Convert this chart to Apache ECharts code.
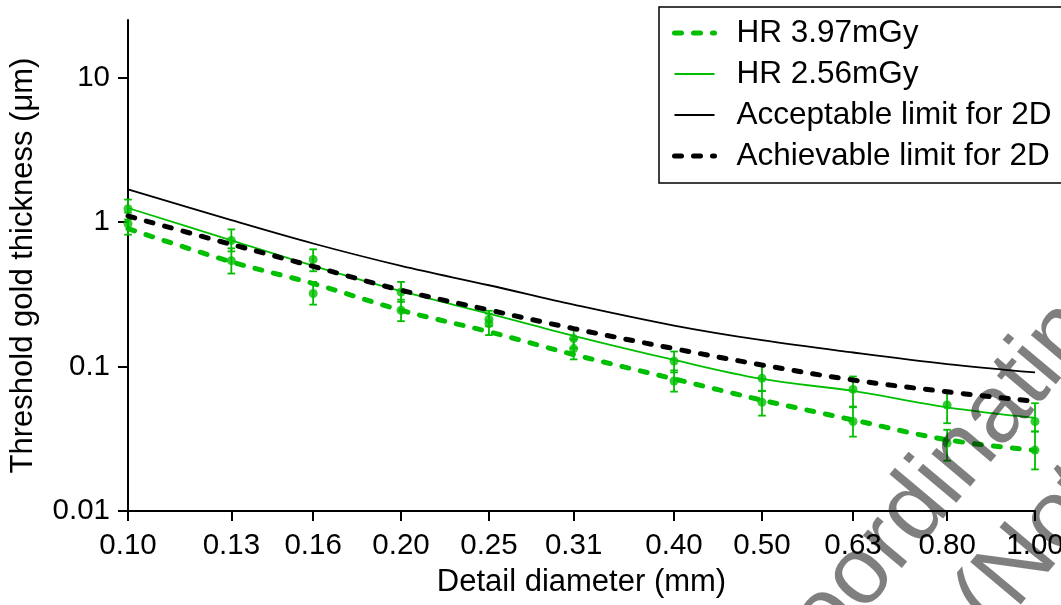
<!DOCTYPE html>
<html>
<head>
<meta charset="utf-8">
<script src="https://cdn.jsdelivr.net/npm/echarts@6/dist/echarts.min.js"></script>
<style>
  html, body { margin: 0; padding: 0; background: #fff; }
  #chart { width: 1061px; height: 605px; }
</style>
</head>
<body>
<div id="chart"></div>
<script>
// Detail diameters (mm) used for the x ticks and the measurement points
const diameters = [0.10, 0.13, 0.16, 0.20, 0.25, 0.31, 0.40, 0.50, 0.63, 0.80, 1.00];
const xTickLabels = ['0.10', '0.13', '0.16', '0.20', '0.25', '0.31', '0.40', '0.50', '0.63', '0.80', '1.00'];
const yTickValues = [0.01, 0.1, 1, 10];
const yTickLabels = ['0.01', '0.1', '1', '10'];

// Fitted threshold curves (µm), sampled at the diameters above
const hr397Fit = [0.90, 0.53, 0.375, 0.245, 0.174, 0.121, 0.082, 0.0585, 0.0427, 0.0311, 0.0263];
const hr256Fit = [1.25, 0.746, 0.497, 0.332, 0.232, 0.163, 0.111, 0.082, 0.0677, 0.0522, 0.0441];
const acceptable2D = [1.68, 1.03, 0.71, 0.497, 0.365, 0.268, 0.192, 0.152, 0.125, 0.104, 0.091];
const achievable2D = [1.10, 0.70, 0.493, 0.337, 0.246, 0.183, 0.133, 0.1025, 0.0806, 0.0668, 0.0573];

// Measured thresholds with error bar limits (µm)
const hr256Mean = [1.235, 0.746, 0.55, 0.328, 0.212, 0.156, 0.109, 0.0828, 0.0694, 0.0541, 0.0416];
const hr256Low  = [1.04, 0.626, 0.456, 0.28, 0.19, 0.134, 0.091, 0.068, 0.0528, 0.0405, 0.0355];
const hr256High = [1.43, 0.889, 0.647, 0.385, 0.243, 0.181, 0.127, 0.101, 0.0853, 0.066, 0.0557];
const hr397Mean = [0.973, 0.54, 0.32, 0.245, 0.198, 0.133, 0.0793, 0.0566, 0.0416, 0.0295, 0.0264];
const hr397Low  = [0.817, 0.44, 0.268, 0.206, 0.165, 0.112, 0.067, 0.0457, 0.0327, 0.0223, 0.0194];
const hr397High = [1.16, 0.657, 0.385, 0.29, 0.232, 0.154, 0.094, 0.0675, 0.0522, 0.0365, 0.0355];

const FONT = "'Liberation Sans', Arial, Helvetica, sans-serif";
const GREEN = '#00bf00';
const BLACK = '#000000';
const DASH = [7, 12];
const NO_MARK = { color: 'rgba(0,0,0,0)', borderColor: 'rgba(0,0,0,0)', borderWidth: 0 };

const pairs = (xs, ys) => xs.map((x, i) => [x, ys[i]]);
const bars = (xs, lo, hi) => xs.map((x, i) => [x, lo[i], hi[i]]);

function errorBar(params, api) {
  const x = api.value(0);
  const top = api.coord([x, api.value(2)]);
  const bottom = api.coord([x, api.value(1)]);
  const half = 3.8;
  const style = { stroke: GREEN, lineWidth: 1.8 };
  return {
    type: 'group',
    children: [
      { type: 'line', shape: { x1: top[0], y1: top[1], x2: bottom[0], y2: bottom[1] }, style },
      { type: 'line', shape: { x1: top[0] - half, y1: top[1], x2: top[0] + half, y2: top[1] }, style },
      { type: 'line', shape: { x1: bottom[0] - half, y1: bottom[1], x2: bottom[0] + half, y2: bottom[1] }, style }
    ]
  };
}

const chart = echarts.init(document.getElementById('chart'), null, { renderer: 'canvas' });

const option = {
  animation: false,
  backgroundColor: '#fff',
  textStyle: { fontFamily: FONT },
  grid: { left: 128, right: 26, top: 20, bottom: 94, outerBoundsMode: 'none' },
  xAxis: {
    type: 'log',
    logBase: 10,
    min: 0.1,
    max: 1,
    name: 'Detail diameter (mm)',
    nameLocation: 'middle',
    nameGap: 56,
    nameTextStyle: { fontSize: 31, color: BLACK, fontFamily: FONT },
    axisLine: { show: true, onZero: false, lineStyle: { color: BLACK, width: 2 } },
    axisTick: { show: true, length: 10, lineStyle: { color: BLACK, width: 2 }, customValues: diameters },
    axisLabel: {
      color: BLACK, fontSize: 29.5, fontFamily: FONT, margin: 20,
      customValues: diameters,
      formatter: (v) => {
        const i = diameters.findIndex(d => Math.abs(d - v) < 1e-6);
        return i >= 0 ? xTickLabels[i] : '';
      }
    },
    splitLine: { show: false },
    minorTick: { show: false }
  },
  yAxis: {
    type: 'log',
    logBase: 10,
    min: 0.01,
    max: 25,
    name: 'Threshold gold thickness (μm)',
    nameLocation: 'middle',
    nameGap: 89,
    nameTextStyle: { fontSize: 31, color: BLACK, fontFamily: FONT },
    axisLine: { show: true, onZero: false, lineStyle: { color: BLACK, width: 2 } },
    axisTick: { show: true, length: 10, lineStyle: { color: BLACK, width: 2 }, customValues: yTickValues },
    axisLabel: {
      color: BLACK, fontSize: 29.5, fontFamily: FONT, margin: 18,
      customValues: yTickValues,
      formatter: (v) => {
        const i = yTickValues.findIndex(t => Math.abs(Math.log10(t) - Math.log10(v)) < 1e-6);
        return i >= 0 ? yTickLabels[i] : '';
      }
    },
    splitLine: { show: false },
    minorTick: { show: false }
  },
  legend: {
    orient: 'vertical',
    left: 659,
    top: 7,
    align: 'left',
    padding: [10, 70, 11, 13],
    itemGap: 9,
    itemWidth: 40,
    itemHeight: 14,
    borderColor: BLACK,
    borderWidth: 1.5,
    backgroundColor: '#fff',
    selectedMode: false,
    textStyle: { fontSize: 31.5, fontFamily: FONT, color: BLACK, lineHeight: 30, padding: [0, 0, 0, 17] },
    data: [
      { name: 'HR 3.97mGy', itemStyle: NO_MARK, lineStyle: { color: GREEN, width: 5, type: DASH, cap: 'round' } },
      { name: 'HR 2.56mGy', itemStyle: NO_MARK, lineStyle: { color: GREEN, width: 1.8, type: 'solid' } },
      { name: 'Acceptable limit for 2D', itemStyle: NO_MARK, lineStyle: { color: BLACK, width: 1.8, type: 'solid' } },
      { name: 'Achievable limit for 2D', itemStyle: NO_MARK, lineStyle: { color: BLACK, width: 5, type: DASH, cap: 'round' } }
    ]
  },
  graphic: [
    {
      type: 'text', x: 764, y: 691, rotation: 50 * Math.PI / 180, z: 100, silent: true,
      style: { text: 'Coordinating', font: "96px " + FONT, fill: 'rgba(0,0,0,0.5)',
               textAlign: 'left', textVerticalAlign: 'middle', align: 'left', verticalAlign: 'middle' }
    },
    {
      type: 'text', x: 975, y: 618, rotation: 50 * Math.PI / 180, z: 100, silent: true,
      style: { text: '(Not', font: "96px " + FONT, fill: 'rgba(0,0,0,0.5)',
               textAlign: 'left', textVerticalAlign: 'middle', align: 'left', verticalAlign: 'middle' }
    }
  ],
  series: [
    {
      name: 'HR 2.56mGy error', type: 'custom', renderItem: errorBar,
      encode: { x: 0, y: [1, 2] }, data: bars(diameters, hr256Low, hr256High), z: 3, silent: true
    },
    {
      name: 'HR 3.97mGy error', type: 'custom', renderItem: errorBar,
      encode: { x: 0, y: [1, 2] }, data: bars(diameters, hr397Low, hr397High), z: 3, silent: true
    },
    {
      name: 'HR 2.56mGy measured', type: 'scatter', symbol: 'circle', symbolSize: 9,
      itemStyle: { color: GREEN }, data: pairs(diameters, hr256Mean), z: 4
    },
    {
      name: 'HR 3.97mGy measured', type: 'scatter', symbol: 'circle', symbolSize: 9,
      itemStyle: { color: GREEN }, data: pairs(diameters, hr397Mean), z: 4
    },
    {
      name: 'HR 3.97mGy', type: 'line', smooth: 0.35, symbol: 'none', z: 5,
      lineStyle: { color: GREEN, width: 5, type: DASH, cap: 'round' },
      itemStyle: { color: GREEN },
      data: pairs(diameters, hr397Fit)
    },
    {
      name: 'HR 2.56mGy', type: 'line', smooth: 0.35, symbol: 'none', z: 5,
      lineStyle: { color: GREEN, width: 1.8 },
      itemStyle: { color: GREEN },
      data: pairs(diameters, hr256Fit)
    },
    {
      name: 'Acceptable limit for 2D', type: 'line', smooth: 0.35, symbol: 'none', z: 5,
      lineStyle: { color: BLACK, width: 1.8 },
      itemStyle: { color: BLACK },
      data: pairs(diameters, acceptable2D)
    },
    {
      name: 'Achievable limit for 2D', type: 'line', smooth: 0.35, symbol: 'none', z: 5,
      lineStyle: { color: BLACK, width: 5, type: DASH, cap: 'round' },
      itemStyle: { color: BLACK },
      data: pairs(diameters, achievable2D)
    }
  ]
};

chart.setOption(option);
</script>
</body>
</html>
